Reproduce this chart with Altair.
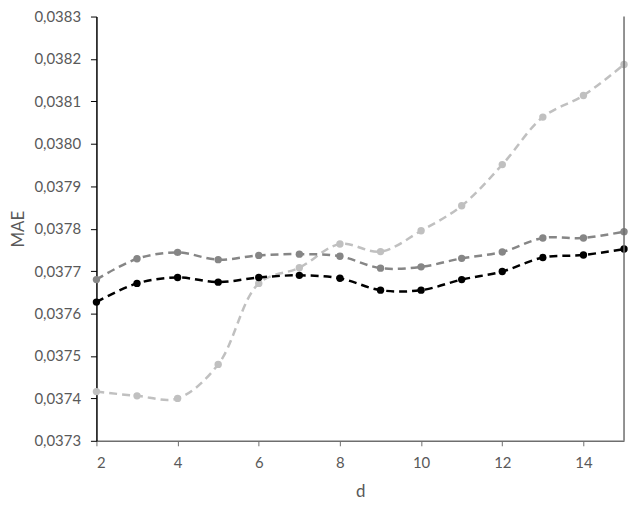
import altair as alt
import pandas as pd

d_values = list(range(2, 16))
series_black = [0.037627, 0.037671, 0.037685, 0.037674, 0.037685, 0.037690, 0.037683,
                0.037655, 0.037655, 0.037680, 0.037699, 0.037732, 0.037738, 0.037752]
series_dark = [0.037680, 0.037729, 0.037744, 0.037727, 0.037737, 0.037740, 0.037735,
               0.037707, 0.037710, 0.037730, 0.037745, 0.037778, 0.037778, 0.037793]
series_light = [0.037416, 0.037406, 0.037400, 0.037480, 0.037671, 0.037708, 0.037764,
                0.037746, 0.037795, 0.037854, 0.037951, 0.038063, 0.038114, 0.038187]
series_names = ["light", "dark", "black"]
series_colors = ["#c0c0c0", "#868686", "#000000"]
y_ticks = [0.0373, 0.0374, 0.0375, 0.0376, 0.0377, 0.0378, 0.0379, 0.0380, 0.0381, 0.0382, 0.0383]
x_ticks = [2, 4, 6, 8, 10, 12, 14]

rows = []
for name, vals in zip(series_names, [series_light, series_dark, series_black]):
    for d, v in zip(d_values, vals):
        rows.append({"d": d, "MAE": v, "series": name})
df = pd.DataFrame(rows)

FONT = "Lato"
LABEL_COLOR = "#595959"

x_enc = alt.X("d:Q", scale=alt.Scale(domain=[2, 15], nice=False, zero=False),
              axis=alt.Axis(values=x_ticks, title="d", grid=False, domainColor="#6e6e6e",
                            tickColor="#6e6e6e", tickSize=5, labelColor=LABEL_COLOR,
                            labelFont=FONT, labelFontSize=15, titleFont=FONT,
                            titleFontSize=17, titleFontWeight="normal", titleColor=LABEL_COLOR,
                            titlePadding=13, labelPadding=10, domainWidth=1.5))
y_enc = alt.Y("MAE:Q", scale=alt.Scale(domain=[0.0373, 0.0383], nice=False, zero=False),
              axis=alt.Axis(values=y_ticks, title="MAE", grid=False, domainColor="#000000",
                            tickColor="#000000", tickSize=6,
                            labelExpr="replace(format(datum.value, '.4f'), '.', ',')",
                            labelColor=LABEL_COLOR, labelFont=FONT, labelFontSize=15,
                            titleFont=FONT, titleFontSize=17, titleFontWeight="normal",
                            titleColor=LABEL_COLOR, titlePadding=6, labelPadding=10,
                            domainWidth=1.5))
color_enc = alt.Color("series:N", scale=alt.Scale(domain=series_names, range=series_colors),
                      legend=None)

base = alt.Chart(df)
lines = base.mark_line(interpolate="catmull-rom", strokeDash=[8, 5], strokeWidth=2.5).encode(
    x=x_enc, y=y_enc, color=color_enc, detail="series:N")
points = base.mark_circle(size=55, opacity=1).encode(
    x="d:Q", y="MAE:Q", color=color_enc)

right_df = pd.DataFrame({"d": [15]})
right_line = alt.Chart(right_df).mark_rule(color="#6e6e6e", strokeWidth=1.5).encode(
    x="d:Q", y=alt.value(0), y2=alt.value(427))

chart = alt.layer(lines, points, right_line).properties(
    width=531, height=427,
    autosize=alt.AutoSizeParams(type="none"),
    padding={"left": 89, "top": 7, "right": 4, "bottom": 60},
).configure_view(stroke=None)

chart.save("out.html", embed_options={"renderer": "svg", "actions": False})
